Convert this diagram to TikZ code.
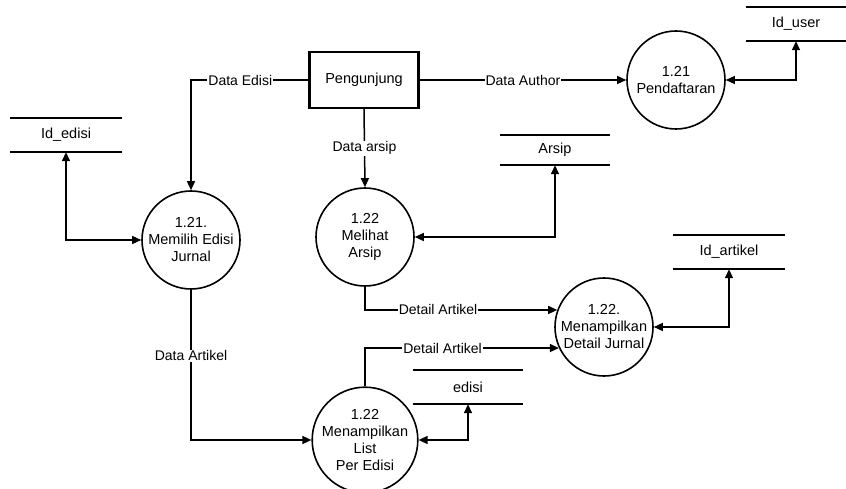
\documentclass[tikz,border=0pt]{standalone}
\usepackage{fontspec}
\setmainfont{Liberation Sans}
\usetikzlibrary{arrows.meta}

\tikzset{
  proses/.style={draw,circle,line width=1.6pt,minimum size=98pt,inner sep=0pt,align=center,font=\fontsize{14.5}{17}\selectfont},
  entitas/.style={draw,rectangle,line width=2.2pt,minimum width=109pt,minimum height=56pt,font=\fontsize{14.5}{17}\selectfont},
  simpan/.style={minimum height=34pt,inner sep=0pt,font=\fontsize{14.5}{17}\selectfont},
  alir/.style={line width=1.5pt,>={Triangle[length=9pt,width=8pt]}},
  ket/.style={fill=white,inner sep=1pt,font=\fontsize{14}{16}\selectfont}
}

\begin{document}
\begin{tikzpicture}[x=1pt,y=-1pt]
\useasboundingbox (0,0) rectangle (846,489);
% entitas luar
\node[entitas](peng) at (364,80){Pengunjung};
% proses
\node[proses](daftar) at (676,80){1.21\\Pendaftaran};
\node[proses](memilih) at (191,240){1.21.\\Memilih Edisi\\Jurnal};
\node[proses](melihat) at (365,237){1.22\\Melihat\\Arsip};
\node[proses](detail) at (604,327){1.22.\\Menampilkan\\Detail Jurnal};
\node[proses](list) at (365,440){1.22\\Menampilkan\\List\\Per Edisi};
% data store
\node[simpan,minimum width=112pt](idedisi) at (66,135){Id\_edisi};
\node[simpan,minimum width=110pt,minimum height=30pt](arsip) at (555,150){Arsip};
\node[simpan,minimum width=100pt](iduser) at (796,24){Id\_user};
\node[simpan,minimum width=112pt](idartikel) at (729,252){Id\_artikel};
\node[simpan,minimum width=110pt](edisi) at (468,387){edisi};
\foreach \s in {idedisi,arsip,iduser,idartikel,edisi}
  \draw[line width=1.6pt] (\s.north west) -- (\s.north east) (\s.south west) -- (\s.south east);
% aliran data
\draw[alir,->] (peng.west) -| node[ket,pos=0.29]{Data Edisi} (memilih.north);
\draw[alir,->] (peng.east) -- node[ket]{Data Author} (daftar.west);
\draw[alir,->] (peng.south) -- node[ket]{Data arsip} (melihat.north);
\draw[alir,<->] (memilih.west) -| (idedisi.south);
\draw[alir,<->] (melihat.east) -| (arsip.south);
\draw[alir,<->] (daftar.east) -| (iduser.south);
\draw[alir,<->] (detail.east) -| (idartikel.south);
\draw[alir,<->] (list.east) -| (edisi.south);
\draw[alir,->] (memilih.south) |- node[ket,pos=0.22]{Data Artikel} (list.west);
\draw[alir,->] (melihat.south) |- node[ket,pos=0.69]{Detail Artikel} (detail.160);
\draw[alir,->] (list.north) |- node[ket,pos=0.70]{Detail Artikel} (detail.205);
\end{tikzpicture}
\end{document}
